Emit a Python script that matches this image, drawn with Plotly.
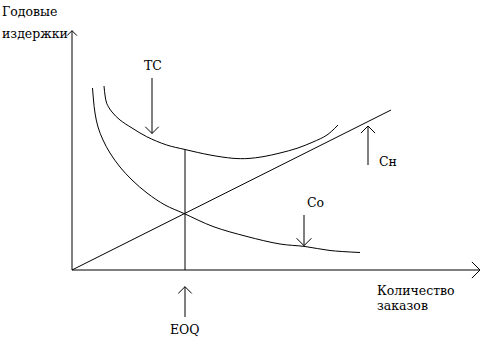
import plotly.graph_objects as go
import math

# ---- data (schematic coordinates: origin at the axes corner) ----
co_x = [20.5, 21.5, 23, 26, 31, 38, 48, 60, 75, 93, 112, 141, 175, 208, 233, 258, 288]
co_y = [182, 170, 157, 143, 130, 117, 103, 90, 77, 65, 56.5, 43.5, 33.5, 26, 23.5, 19.5, 17.5]

tc_x = [32, 33, 34.7, 40, 48, 60, 74.7, 94.7, 113, 138, 161, 176, 191, 208, 225, 241, 255, 266]
tc_y = [184, 175, 166.7, 158, 150, 142, 133.3, 125, 120.5, 115, 111.7, 111.5, 113.3, 117, 121.7, 128, 135, 145]

ch_x = [0, 319]
ch_y = [0, 160]

eoq_x = [113, 113]
eoq_y = [0, 120.5]

# arrows: (tail x, tail y, tip x, tip y, head size)
arrows = {
    "y_axis": (0, 0, 0, 239.3, 7),
    "x_axis": (0, 0, 408, 0, 11.5),
    "TC": (80, 192, 80, 136.5, 9.5),
    "Cн": (296, 105, 296, 144, 10),
    "Co": (232, 55, 232, 24.3, 10.5),
    "EOQ": (113, -47, 113, -16.7, 9.5),
}

labels = [
    ("Годовые", -72, 259, "left"),
    ("издержки", -72, 237, "left"),
    ("TC", 81, 205, "center"),
    ("Сн", 305, 109, "left"),
    ("Со", 233, 68, "left"),
    ("EOQ", 113, -59, "center"),
    ("Количество", 303, -20, "left"),
    ("заказов", 303, -35.5, "left"),
]

FONT = "DejaVu Serif"
line = dict(color="black", width=1)

fig = go.Figure()
fig.add_trace(go.Scatter(x=co_x, y=co_y, mode="lines", line=dict(shape="spline", **line)))
fig.add_trace(go.Scatter(x=tc_x, y=tc_y, mode="lines", line=dict(shape="spline", **line)))
fig.add_trace(go.Scatter(x=ch_x, y=ch_y, mode="lines", line=line))
fig.add_trace(go.Scatter(x=eoq_x, y=eoq_y, mode="lines", line=line))

for name, (x0, y0, x1, y1, h) in arrows.items():
    ang = math.atan2(y1 - y0, x1 - x0)
    xs = [x0, x1, None]
    ys = [y0, y1, None]
    for s in (1, -1):
        a = ang + math.pi - s * math.pi / 4
        xs += [x1, x1 + h * math.cos(a), None]
        ys += [y1, y1 + h * math.sin(a), None]
    fig.add_trace(go.Scatter(x=xs, y=ys, mode="lines", line=line))

for text, x, y, anchor in labels:
    fig.add_annotation(x=x, y=y, text=text, showarrow=False, xanchor=anchor,
                       yanchor="middle", font=dict(family=FONT, size=12.5, color="black"))

fig.update_layout(
    width=481, height=337, margin=dict(l=0, r=0, t=0, b=0),
    paper_bgcolor="white", plot_bgcolor="white", showlegend=False,
    xaxis=dict(range=[-72, 409], visible=False, fixedrange=True),
    yaxis=dict(range=[-67, 270], visible=False, fixedrange=True),
)
fig.write_html("out.html", config={"displayModeBar": False})
